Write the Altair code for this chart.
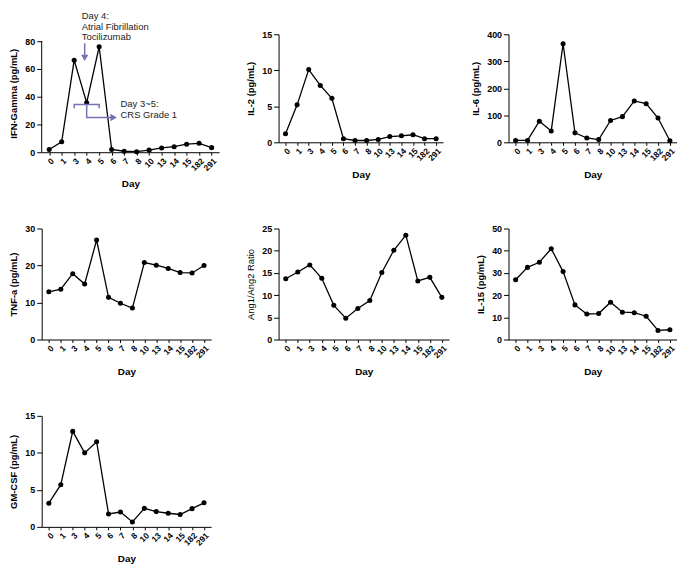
import altair as alt
import pandas as pd

days = ["0", "1", "3", "4", "5", "6", "7", "8", "10", "13", "14", "15", "182", "291"]

ifn_gamma = [2.0, 7.5, 66.3, 35.7, 76.0, 2.0, 0.7, 0.4, 1.5, 3.1, 4.0, 5.8, 6.4, 3.3]
il2 = [1.2, 5.2, 10.1, 7.9, 6.1, 0.5, 0.25, 0.25, 0.4, 0.8, 0.9, 1.05, 0.5, 0.5]
il6 = [7, 7, 78, 42, 365, 35, 16, 10, 81, 95, 153, 143, 90, 6]
tnf_a = [12.9, 13.6, 17.8, 15.0, 26.9, 11.4, 9.8, 8.5, 20.8, 20.1, 19.2, 18.1, 18.0, 20.0]
ang_ratio = [13.7, 15.2, 16.8, 13.8, 7.7, 4.8, 7.0, 8.8, 15.1, 20.1, 23.5, 13.2, 14.0, 9.5]
il15 = [26.9, 32.5, 34.8, 40.9, 30.6, 15.6, 11.5, 11.7, 16.8, 12.3, 12.1, 10.5, 4.1, 4.4]
gm_csf = [3.2, 5.7, 12.9, 10.0, 11.5, 1.75, 2.0, 0.66, 2.5, 2.06, 1.84, 1.67, 2.46, 3.25]

# annotation content (panel 1)
note_top_lines = ["Day 4:", "Atrial Fibrillation", "Tocilizumab"]
note_top_y = [98.0, 90.4, 82.8]
note_crs_lines = ["Day 3~5:", "CRS Grade 1"]
note_crs_y = [34.4, 26.6]

FONT = "Liberation Sans"
ANN = "#7472b0"


def xenc():
    return alt.X(
        "Day:N",
        sort=days,
        scale=alt.Scale(type="point", padding=0.6),
        axis=alt.Axis(
            title="Day",
            labelAngle=-45,
            labelFontSize=8.5,
            labelFontWeight="bold",
            labelPadding=1,
            tickSize=3,
            titleFontSize=10,
            titleFontWeight="bold",
            titlePadding=7,
        ),
    )


def yaxis(title, ticks, title_weight, show_domain):
    return alt.Axis(
        title=title,
        values=ticks,
        tickSize=5,
        labelFontSize=9,
        labelFontWeight="bold",
        labelPadding=2,
        titleFontSize=9.5,
        titleFontWeight=title_weight,
        titlePadding=6,
        domain=show_domain,
    )


def annotations(yf):
    top_df = pd.DataFrame({"Day": ["4"] * 3, "v": note_top_y, "t": note_top_lines})
    top_text = alt.Chart(top_df).mark_text(
        align="left", baseline="middle", dx=-5, fontSize=9.5, font=FONT, color="#222"
    ).encode(x=xenc(), y=yf("v"), text="t:N")

    arrow_down_df = pd.DataFrame({"Day": ["4", "4"], "v": [78.5, 70.0]})
    arrow_down = alt.Chart(arrow_down_df).mark_line(
        color=ANN, strokeWidth=1.5, xOffset=-2
    ).encode(x=xenc(), y=yf("v"))
    head_down = alt.Chart(pd.DataFrame({"Day": ["4"], "v": [68.0]})).mark_point(
        shape="triangle-down", filled=True, color=ANN, size=55, opacity=1, xOffset=-2
    ).encode(x=xenc(), y=yf("v"))

    bracket_df = pd.DataFrame({
        "Day": ["3", "3", "5", "5"],
        "v": [31.6, 34.4, 34.4, 31.6],
        "o": [0, 1, 2, 3],
    })
    bracket = alt.Chart(bracket_df).mark_line(color=ANN, strokeWidth=1.5).encode(
        x=xenc(), y=yf("v"), order="o:Q"
    )
    stem_df = pd.DataFrame({"Day": ["4", "4", "6"], "v": [34.4, 25.0, 25.0], "o": [0, 1, 2]})
    stem = alt.Chart(stem_df).mark_line(color=ANN, strokeWidth=1.5).encode(
        x=xenc(), y=yf("v"), order="o:Q"
    )
    head_right = alt.Chart(pd.DataFrame({"Day": ["6"], "v": [25.0]})).mark_point(
        shape="triangle-right", filled=True, color=ANN, size=55, opacity=1, xOffset=2
    ).encode(x=xenc(), y=yf("v"))

    crs_df = pd.DataFrame({"Day": ["6"] * 2, "v": note_crs_y, "t": note_crs_lines})
    crs_text = alt.Chart(crs_df).mark_text(
        align="left", baseline="middle", dx=9, fontSize=9.5, font=FONT, color="#222"
    ).encode(x=xenc(), y=yf("v"), text="t:N")
    return [top_text, arrow_down, head_down, bracket, stem, head_right, crs_text]


def panel(values, title, ymax, ticks, width, height, title_weight="bold",
          domain_max=None, with_notes=False):
    df = pd.DataFrame({"Day": days, "v": values})
    dmax = domain_max if domain_max is not None else ymax
    yscale = alt.Scale(domain=[0, dmax], nice=False, zero=True)
    ax = yaxis(title, ticks, title_weight, domain_max is None)

    def yf(field):
        return alt.Y(f"{field}:Q", scale=yscale, axis=ax, title=title)

    base = alt.Chart(df)
    line = base.mark_line(color="black", strokeWidth=1.3).encode(x=xenc(), y=yf("v"))
    pts = base.mark_circle(color="black", size=26, opacity=1).encode(x=xenc(), y=yf("v"))
    layers = [line, pts]
    if domain_max is not None:
        rule_df = pd.DataFrame({"a": [0], "b": [ymax]})
        axis_rule = alt.Chart(rule_df).mark_rule(color="black", strokeWidth=1).encode(
            x=alt.value(0),
            y=yf("a"),
            y2="b:Q",
        )
        layers.append(axis_rule)
    if with_notes:
        layers.extend(annotations(yf))
    return alt.layer(*layers).properties(width=width, height=height)


p1 = panel(ifn_gamma, "IFN-Gamma (pg/mL)", 80, [0, 20, 40, 60, 80], 179, 119,
           domain_max=85, with_notes=True)
p2 = panel(il2, "IL-2 (pg/mL)", 15, [0, 5, 10, 15], 166, 109)
p3 = panel(il6, "IL-6 (pg/mL)", 400, [0, 100, 200, 300, 400], 170, 109)
p4 = panel(tnf_a, "TNF-a (pg/mL)", 30, [0, 10, 20, 30], 171, 112)
p5 = panel(ang_ratio, "Ang1/Ang2 Ratio", 25, [0, 5, 10, 15, 20, 25], 172, 112,
           title_weight="normal")
p6 = panel(il15, "IL-15 (pg/mL)", 50, [0, 10, 20, 30, 40, 50], 170, 112)
p7 = panel(gm_csf, "GM-CSF (pg/mL)", 15, [0, 5, 10, 15], 171, 112)

chart = alt.concat(
    p1, p2, p3, p4, p5, p6, p7,
    columns=3,
    spacing={"row": 77, "column": 60},
    bounds="flush",
    align="each",
).properties(
    padding=0,
).configure_view(
    stroke=None
).configure_axis(
    grid=False,
    domainColor="black",
    tickColor="black",
    labelColor="black",
    titleColor="black",
    labelFont=FONT,
    titleFont=FONT,
    domainWidth=1,
    tickWidth=1,
).configure_text(font=FONT)

chart.save("out.html", embed_options={"renderer": "svg", "actions": False})
